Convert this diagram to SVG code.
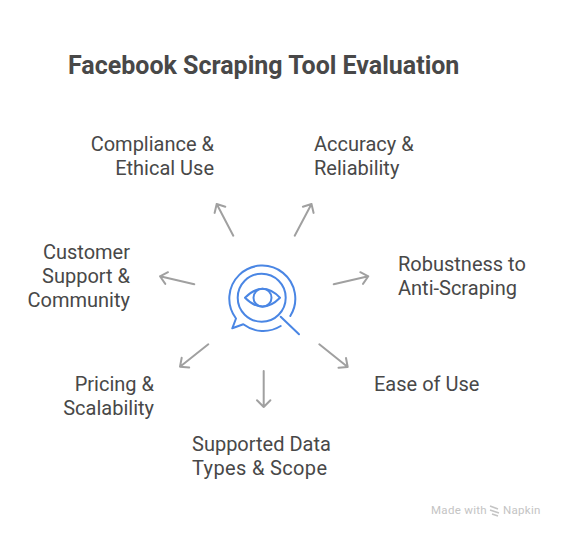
<svg xmlns="http://www.w3.org/2000/svg" width="564" height="538" viewBox="0 0 564 538">
<style>
text{font-family:Roboto,"Liberation Sans",sans-serif;fill:#484848;font-size:20px}
.t{font-size:25px;font-weight:700}
.e{text-anchor:end}
.c path{fill:none;stroke:#a0a0a0;stroke-width:2;stroke-linecap:round;stroke-linejoin:round}
#icon path,#icon circle{fill:none;stroke:#4a86e4;stroke-width:2;stroke-linecap:round;stroke-linejoin:round}
.w{font-size:11.5px;fill:#c4c4c4;letter-spacing:.3px}
</style>
<rect width="564" height="538" fill="#fff"/>
<text class="t" x="68" y="74">Facebook Scraping Tool Evaluation</text>
<g id="connectors" class="c">
<path id="arrow-tl" d="M233.3 235.7L216.7 204M214.6 212.9L216.7 204L225.3 206.8"/>
<path id="arrow-tr" d="M294.7 235.7L311.5 204M302.9 206.8L311.5 204L313.6 212.9"/>
<path id="arrow-r" d="M333.7 284.3L368.3 276.3M360.3 272.2L368.3 276.3L363 283.9"/>
<path id="arrow-l" d="M194.3 284.3L160 276.3M165.3 283.9L160 276.3L168 272.2"/>
<path id="arrow-bl" d="M208.3 344.3L180 366.7M189.2 367.4L180 366.7L181.7 357.7"/>
<path id="arrow-br" d="M319.3 344.3L347.7 367M346 358L347.7 367L338.5 367.7"/>
<path id="arrow-b" d="M263.7 371V407M257 400.3L263.7 407L270.4 400.3"/>
</g>
<g id="center-icon"><g id="icon">
<path d="M290.3 316A33 33 0 1 0 236 318.5L232.3 328.3L243.3 324.3A33 33 0 0 0 280.7 326"/>
<circle cx="261.7" cy="297.7" r="24"/>
<path d="M245 297.7Q262.5 280 280 297.7Q262.5 315.4 245 297.7Z"/>
<circle cx="262.5" cy="297.7" r="9"/>
<path d="M280.7 316.7L299 334.3"/>
</g></g>
<g id="node-compliance"><text class="e" x="214" y="151">Compliance &amp;</text><text class="e" x="214" y="175">Ethical Use</text></g>
<g id="node-accuracy"><text x="314" y="151">Accuracy &amp;</text><text x="314" y="175">Reliability</text></g>
<g id="node-robustness"><text x="398" y="271">Robustness to</text><text x="398" y="295">Anti-Scraping</text></g>
<g id="node-customer"><text class="e" x="130" y="259">Customer</text><text class="e" x="130" y="283">Support &amp;</text><text class="e" x="130" y="307">Community</text></g>
<g id="node-pricing"><text class="e" x="154" y="391">Pricing &amp;</text><text class="e" x="154" y="415">Scalability</text></g>
<g id="node-ease"><text x="374" y="391">Ease of Use</text></g>
<g id="node-data"><text x="192" y="451">Supported Data</text><text x="192" y="475" textLength="135">Types &amp; Scope</text></g>
<g id="watermark"><text class="w" x="431" y="514">Made with</text><path d="M490 506L498 509M490 510L499 513M492 514L498 516" stroke="#c4c4c4" stroke-width="1.6" fill="none"/><text class="w" x="503" y="514">Napkin</text></g>
</svg>
